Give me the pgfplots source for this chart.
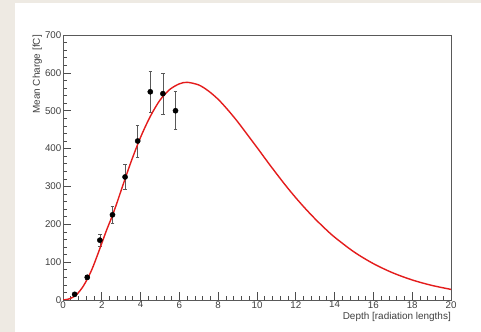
\documentclass[border=0pt]{standalone}
\usepackage{pgfplots}
\pgfplotsset{compat=1.18}
\usepackage{fontspec}
\setmainfont{Liberation Sans}
\definecolor{paper}{RGB}{238,234,227}
\definecolor{rootred}{RGB}{228,28,28}
\begin{document}
\begin{tikzpicture}
\fill[paper] (0,0) rectangle (481bp,332bp);
\fill[white] (15bp,0) rectangle (481bp,329bp);
\useasboundingbox (0,0) rectangle (481bp,332bp);
\begin{axis}[
  at={(63bp,32bp)}, anchor=south west,
  scale only axis, width=388bp, height=265bp,
  xmin=0, xmax=20, ymin=0, ymax=700,
  xtick={0,2,...,20}, ytick={0,100,...,700},
  minor x tick num=4, minor y tick num=4,
  xtick pos=left, ytick pos=left,
  tick align=inside,
  major tick length=8bp, minor tick length=4bp,
  axis line style={draw=black!65, line width=0.8bp},
  every tick/.style={black!70, line width=0.7bp},
  /pgf/number format/assume math mode=true,
  ticklabel style={font=\fontsize{9.8}{10}\selectfont, text=black!75},
  xticklabel style={inner sep=1bp},
  yticklabel style={inner sep=1.5bp},
  xlabel={Depth [radiation lengths]},
  ylabel={Mean Charge [fC]},
  label style={font=\fontsize{10}{11}\selectfont, text=black!75, inner sep=0pt},
  xlabel style={at={(axis description cs:1,0)}, anchor=north east, yshift=-12bp},
  ylabel style={at={(axis description cs:-0.054,1)}, anchor=south east},
  clip=true,
]
\addplot[only marks, mark=*, mark size=2.6bp, black,
  error bars/.cd, y dir=both, y explicit,
  error bar style={black!65, line width=0.6bp},
  error mark options={rotate=90, mark size=1.8bp, black!65, line width=0.6bp}]
  table[x=x, y=y, y error=e] {
x y e
0.6 15 3
1.25 60 6
1.9 158 16
2.55 225 23
3.2 325 33
3.85 420 42
4.5 550 55
5.15 545 55
5.8 500 50
};
\addplot[rootred, line width=1.4bp, smooth, no marks] table {
0 0
0.25 2
0.5 7
0.75 17
1 33
1.25 55
1.5 82
1.75 115
2 150
2.25 185
2.5 217
2.75 252
3 290
3.5 364
4 430
4.5 485
5 528
5.5 556
6 571
6.4 575
7 568
7.5 552
8 530
8.5 502
9 471
9.5 437
10 403
10.5 368
11 334
11.5 301
12 270
12.5 241
13 214
13.5 189
14 166
15 127
16 96
17 71.7
18 52.9
19 38.7
20 28
};
\end{axis}
\end{tikzpicture}
\end{document}
